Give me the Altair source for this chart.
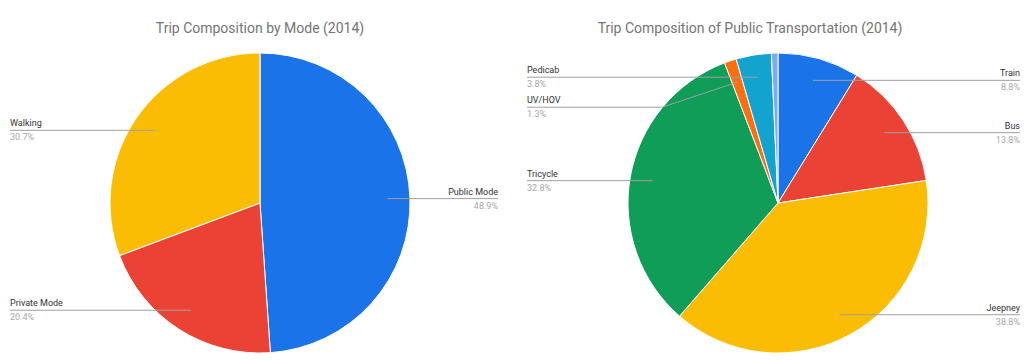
import altair as alt
import pandas as pd

# ---- data ----
mode_names = ["Public Mode", "Private Mode", "Walking"]
mode_values = [48.9, 20.4, 30.7]
mode_colors = ["#1A73E8", "#EA4335", "#FBBC04"]

pt_names = ["Train", "Bus", "Jeepney", "Tricycle", "UV/HOV", "Pedicab", "Others"]
pt_values = [8.8, 13.8, 38.8, 32.8, 1.3, 3.8, 0.7]
pt_colors = ["#1A73E8", "#EA4335", "#FBBC04", "#0F9D58", "#FA6F10", "#12A4CF", "#7BAAF7"]

FONT = "Roboto"
W, H = 512, 323
R = 150
K = 0.85
GAP = 30


def pie(names, values, colors, title, cx, cy, lx, rx, tdx):
    df = pd.DataFrame({"name": names, "value": values})
    base = (
        alt.Chart(df)
        .transform_window(idx="row_number()")
        .transform_joinaggregate(total="sum(value)")
        .transform_window(cum="sum(value)", sort=[alt.SortField("idx")], frame=[None, 0])
        .transform_calculate(
            mid="2*PI*(datum.cum - datum.value/2)/datum.total",
            pct="format(datum.value/datum.total, '.1%')",
        )
        .transform_calculate(
            ax=f"{cx} + {K*R}*sin(datum.mid)",
            ay=f"{cy} - {K*R}*cos(datum.mid)",
            side="sin(datum.mid) >= 0 ? 1 : -1",
        )
    )
    arcs = base.mark_arc(radius=R, stroke="white", strokeWidth=1).encode(
        theta=alt.Theta("value:Q", stack=True),
        color=alt.Color("name:N", scale=alt.Scale(domain=names, range=colors), legend=None),
        order=alt.Order("idx:Q"),
        x=alt.value(cx),
        y=alt.value(cy),
    )
    lab = (
        base.transform_filter("datum.value/datum.total >= 0.01")
        .transform_window(rk="row_number()", groupby=["side"], sort=[alt.SortField("ay")])
        .transform_calculate(t=f"datum.ay - (datum.rk-1)*{GAP}")
        .transform_window(cm="max(t)", groupby=["side"], sort=[alt.SortField("ay")], frame=[None, 0])
        .transform_calculate(ly=f"datum.cm + (datum.rk-1)*{GAP}")
        .transform_calculate(
            ex="abs(datum.ly - datum.ay) > 1 ? datum.ax + datum.side*3*abs(datum.ly - datum.ay) : datum.ax",
            tx=f"datum.side < 0 ? {lx} : {rx}",
        )
    )
    line_col = "#a0a0a0"
    rule1 = lab.mark_rule(color=line_col, strokeWidth=1).encode(
        x=alt.X("tx:Q", scale=None, axis=None),
        x2=alt.X2("ex"),
        y=alt.Y("ly:Q", scale=None, axis=None),
        y2=alt.Y2("ly"),
    )
    rule2 = lab.mark_rule(color=line_col, strokeWidth=1).encode(
        x=alt.X("ex:Q", scale=None, axis=None),
        x2=alt.X2("ax"),
        y=alt.Y("ly:Q", scale=None, axis=None),
        y2=alt.Y2("ay"),
    )
    layers = [arcs, rule1, rule2]
    for sd, al in [("-1", "left"), ("1", "right")]:
        part = lab.transform_filter(f"datum.side == {sd}")
        layers.append(
            part.mark_text(align=al, baseline="bottom", dy=-2, font=FONT, fontSize=9, color="#333333").encode(
                x=alt.X("tx:Q", scale=None, axis=None),
                y=alt.Y("ly:Q", scale=None, axis=None),
                text="name:N",
            )
        )
        layers.append(
            part.mark_text(align=al, baseline="top", dy=3, font=FONT, fontSize=9, color="#a8a8a8").encode(
                x=alt.X("tx:Q", scale=None, axis=None),
                y=alt.Y("ly:Q", scale=None, axis=None),
                text="pct:N",
            )
        )
    return alt.layer(*layers).properties(
        width=W,
        height=H,
        title=alt.TitleParams(
            text=title, fontSize=14, font=FONT, color="#757575", fontWeight="normal",
            anchor="middle", offset=2, dx=tdx,
        ),
    )


left = pie(mode_names, mode_values, mode_colors, "Trip Composition by Mode (2014)", 260, 165, 10, 498, 4)
right = pie(pt_names, pt_values, pt_colors, "Trip Composition of Public Transportation (2014)", 266, 165, 15, 508, -18)

chart = (
    alt.hconcat(left, right, spacing=0)
    .resolve_scale(color="independent")
    .properties(padding={"left": 0, "top": 22, "right": 0, "bottom": 0}, background="white")
    .configure_view(stroke=None)
)

chart.save("out.html", embed_options={"renderer": "svg", "actions": False})
